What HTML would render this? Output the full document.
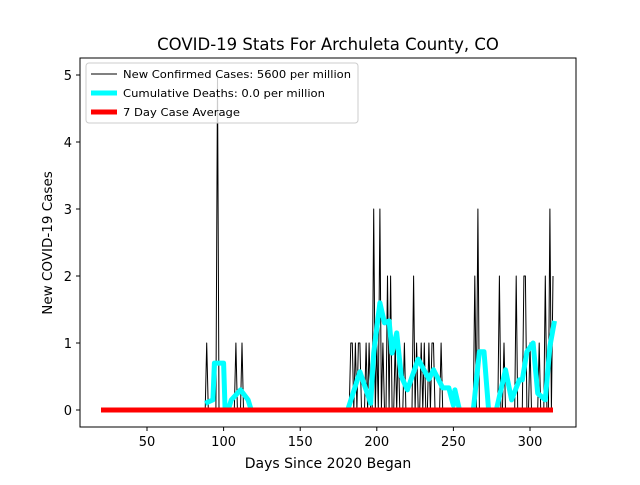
<!DOCTYPE html>
<html><head><meta charset="utf-8"><style>
body{margin:0;background:#fff;font-family:"Liberation Sans","DejaVu Sans",sans-serif}
</style></head><body>
<svg id="chart" width="640" height="480" xmlns="http://www.w3.org/2000/svg" font-family="DejaVu Sans, Liberation Sans, sans-serif">
<rect width="640" height="480" fill="#fff"/>
<text x="328" y="50" text-anchor="middle" font-size="16.5">COVID-19 Stats For Archuleta County, CO</text>
<text x="328" y="468" text-anchor="middle" font-size="14">Days Since 2020 Began</text>
<text transform="translate(52,243) rotate(-90)" text-anchor="middle" font-size="13.5">New COVID-19 Cases</text>
<g id="marks"></g>
<g id="axes"></g>
<rect x="80" y="58" width="496" height="369" fill="none" stroke="#000" stroke-width="1"/>
<g>
<rect x="86" y="63" width="272" height="60" rx="3" fill="#fff" fill-opacity="0.8" stroke="#ccc"/>
<line x1="91" y1="74" x2="117" y2="74" stroke="#000" stroke-width="1"/>
<text x="123" y="78" font-size="11" textLength="228" lengthAdjust="spacingAndGlyphs">New Confirmed Cases: 5600 per million</text>
<line x1="91" y1="93" x2="117" y2="93" stroke="#00ffff" stroke-width="5"/>
<text x="123" y="97" font-size="11" textLength="202" lengthAdjust="spacingAndGlyphs">Cumulative Deaths: 0.0 per million</text>
<line x1="91" y1="112" x2="117" y2="112" stroke="#ff0000" stroke-width="5"/>
<text x="123" y="116" font-size="11" textLength="117" lengthAdjust="spacingAndGlyphs">7 Day Case Average</text>
</g>
</svg>
<script>
const caseDays=[89,96,108,112,183,184,186,188,189,193,195,198,200,202,204,207,209,212,214,218,224,226,229,231,234,236,237,242,264,266,280,283,291,296,297,300,306,310,313,315];
const caseVals=[1,5,1,1,1,1,1,1,1,1,1,3,1,3,1,2,2,1,1,1,2,1,1,1,1,1,1,1,2,3,2,1,2,2,2,1,1,2,3,2];
const deathDays=[88,93,94,100,101,103,105,111,116,118,181,189,196,198,202,205,208,210,213,216,220,227,234,237,243,247,250,251,254,263,267,270,273,278,284,288,293,295,298,302,305,310,313,316];
const deathVals=[0.1,0.15,0.7,0.7,0,0,0.15,0.3,0.15,0,0,0.57,0.1,0.85,1.6,1.3,1.33,0.85,1.15,0.5,0.3,0.76,0.46,0.6,0.33,0.33,0.07,0.3,0,0,0.87,0.87,0,0,0.6,0.15,0.45,0.45,0.87,1.0,0.25,0.15,0.95,1.33];
const avgDays=[20,315];
const avgVals=[0,0];
const xTicks=[50,100,150,200,250,300];
const yTicks=[0,1,2,3,4,5];
const startDay=20,endDay=315;
const X=d=>70.4+d*1.532;
const Y=v=>410-v*67;
const NS="http://www.w3.org/2000/svg";
const marks=document.getElementById('marks'),axes=document.getElementById('axes');
function poly(ds,vs,color,w,name){
  const p=document.createElementNS(NS,'polyline');
  p.setAttribute('points',ds.map((d,i)=>X(d).toFixed(1)+','+Y(vs[i]).toFixed(1)).join(' '));
  p.setAttribute('fill','none');p.setAttribute('stroke',color);p.setAttribute('stroke-width',w);
  p.setAttribute('stroke-linejoin','round');
  
  
  marks.appendChild(p);
}
const dd=[],dv=[];
for(let d=startDay;d<=endDay;d++){const k=caseDays.indexOf(d);dd.push(d);dv.push(k>=0?caseVals[k]:0);}
poly(dd,dv,'#000',1,'cases-line');
poly(deathDays,deathVals,'#00ffff',5,'deaths-line');
poly(avgDays,avgVals,'#ff0000',5,'average-line');
xTicks.forEach(t=>{
  const l=document.createElementNS(NS,'line');l.setAttribute('x1',X(t));l.setAttribute('x2',X(t));l.setAttribute('y1',427);l.setAttribute('y2',431);l.setAttribute('stroke','#000');
  
  
  axes.appendChild(l);
  const s=document.createElementNS(NS,'text');s.setAttribute('x',X(t));s.setAttribute('y',446);s.setAttribute('text-anchor','middle');s.setAttribute('font-size','13');s.textContent=t;
  
  
  axes.appendChild(s);
});
yTicks.forEach(t=>{
  const l=document.createElementNS(NS,'line');l.setAttribute('x1',76);l.setAttribute('x2',80);l.setAttribute('y1',Y(t));l.setAttribute('y2',Y(t));l.setAttribute('stroke','#000');
  
  
  axes.appendChild(l);
  const s=document.createElementNS(NS,'text');s.setAttribute('x',72);s.setAttribute('y',Y(t)+5);s.setAttribute('text-anchor','end');s.setAttribute('font-size','13');s.textContent=t;
  
  
  axes.appendChild(s);
});
</script>
</body></html>
